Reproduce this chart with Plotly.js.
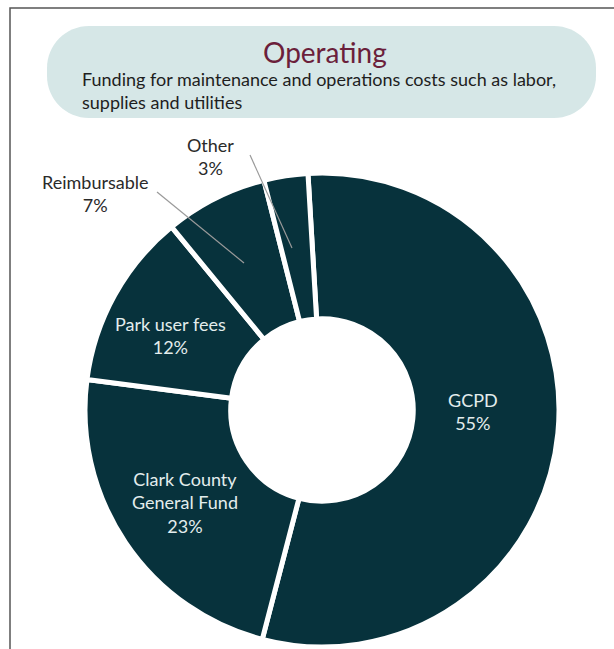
<!DOCTYPE html>
<html>
<head>
<meta charset="utf-8">
<script src="https://cdn.plot.ly/plotly-3.0.1.min.js"></script>
<style>
html,body{margin:0;padding:0;background:#fff;}
#chart{width:614px;height:649px;}
</style>
</head>
<body>
<div id="chart"></div>
<script>
// ---- data ----
const categories = ["GCPD", "Clark County<br>General Fund", "Park user fees", "Reimbursable", "Other"];
const shares = [55, 23, 12, 7, 3];
const titleText = "Operating";
const subtitleText = "Funding for maintenance and operations costs such as labor,<br>supplies and utilities";

// ---- helpers (pixel -> paper) ----
const W = 614, H = 649;
const px = v => v / W;
const py = v => 1 - v / H;

function roundedRect(x0, y0, x1, y1, r) {
  const k = 0.5523 * r;
  const P = (x, y) => px(x) + ',' + py(y);
  return 'M' + P(x0 + r, y0) +
    ' L' + P(x1 - r, y0) +
    ' C' + P(x1 - r + k, y0) + ' ' + P(x1, y0 + r - k) + ' ' + P(x1, y0 + r) +
    ' L' + P(x1, y1 - r) +
    ' C' + P(x1, y1 - r + k) + ' ' + P(x1 - r + k, y1) + ' ' + P(x1 - r, y1) +
    ' L' + P(x0 + r, y1) +
    ' C' + P(x0 + r - k, y1) + ' ' + P(x0, y1 - r + k) + ' ' + P(x0, y1 - r) +
    ' L' + P(x0, y0 + r) +
    ' C' + P(x0, y0 + r - k) + ' ' + P(x0 + r - k, y0) + ' ' + P(x0 + r, y0) + ' Z';
}

const trace = {
  type: 'pie',
  labels: categories,
  values: shares,
  sort: false,
  direction: 'clockwise',
  rotation: -3.4,
  hole: 0.385,
  marker: { colors: categories.map(() => '#07323c'), line: { color: '#ffffff', width: 5 } },
  textinfo: 'none',
  hoverinfo: 'none',
  showlegend: false,
  domain: { x: [px(85), px(559)], y: [py(647), py(173)] }
};

// label placement (pixels): [centerX, centerY, inside?, leader line]
const labelPos = [
  { tx: 473, ty: 411, inside: true },
  { tx: 185, ty: 502, inside: true },
  { tx: 170, ty: 335, inside: true },
  { tx: 96, ty: 193, inside: false, l: [157, 192, 244, 263] },
  { tx: 210, ty: 156, inside: false, l: [250, 155, 292, 248] }
];

const annotations = [
  { text: titleText, x: px(325), y: py(52), xref: 'paper', yref: 'paper', showarrow: false,
    font: { family: 'Lato, sans-serif', size: 28, color: '#6b1f3b' }, xanchor: 'center', yanchor: 'middle' },
  { text: subtitleText, x: px(80), y: py(91), xref: 'paper', yref: 'paper', showarrow: false, align: 'left',
    font: { family: 'Lato, sans-serif', size: 18, color: '#1e1e1e' }, xanchor: 'left', yanchor: 'middle' }
];
const shapes = [
  { type: 'rect', xref: 'paper', yref: 'paper', x0: px(10), x1: px(640), y0: py(8), y1: py(680),
    line: { color: '#555555', width: 1.5 }, fillcolor: 'rgba(0,0,0,0)', layer: 'below' },
  { type: 'path', xref: 'paper', yref: 'paper', path: roundedRect(47, 26, 596, 118, 42),
    fillcolor: '#d6e7e7', line: { width: 0 }, layer: 'below' }
];
categories.forEach((c, i) => {
  const p = labelPos[i];
  annotations.push({ text: c + '<br>' + shares[i] + '%', x: px(p.tx), y: py(p.ty), xref: 'paper', yref: 'paper',
    showarrow: false, align: 'center',
    font: { family: 'Lato, sans-serif', size: 18, color: p.inside ? '#e3eded' : '#2a2a2a' },
    xanchor: 'center', yanchor: 'middle' });
  if (p.l) {
    shapes.push({ type: 'line', xref: 'paper', yref: 'paper', x0: px(p.l[0]), y0: py(p.l[1]), x1: px(p.l[2]), y1: py(p.l[3]),
      line: { color: '#9a9a9a', width: 1.2 }, layer: 'above' });
  }
});

const layout = {
  width: W, height: H,
  margin: { l: 0, r: 0, t: 0, b: 0 },
  paper_bgcolor: '#ffffff',
  annotations, shapes,
  font: { family: 'Lato, sans-serif' }
};

Plotly.newPlot('chart', [trace], layout, { displayModeBar: false, staticPlot: true });
</script>
</body>
</html>
